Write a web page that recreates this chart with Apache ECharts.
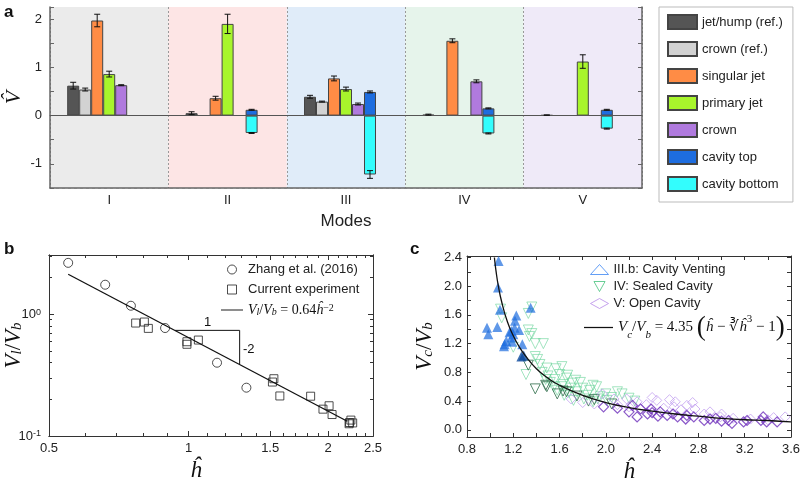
<!DOCTYPE html>
<html>
<head>
<meta charset="utf-8">
<script src="https://cdn.jsdelivr.net/npm/echarts@6/dist/echarts.min.js"></script>
<style>
html, body { margin: 0; background: #fff; }
#chart { width: 800px; height: 484px; }
</style>
</head>
<body>
<div id="chart"></div>
<script>
// ---- panel a: volumes by mode ----
const modes = ["I", "II", "III", "IV", "V"];
const modeColors = ["#ebebeb", "#fde5e5", "#e0ecf9", "#e6f4eb", "#efeaf8"];
const jetHump = [0.62, 0.05, 0.39, 0.02, 0.01];
const jetHumpErr = [0.07, 0.03, 0.03, 0.01, 0.005];
const crownRef = [0.54, null, 0.29, null, null];
const crownRefErr = [0.03, null, 0.01, null, null];
const singularJet = [1.97, 0.36, 0.77, 1.55, null];
const singularJetErr = [0.13, 0.04, 0.05, 0.04, null];
const primaryJet = [0.86, 1.90, 0.55, null, 1.12];
const primaryJetErr = [0.06, 0.20, 0.04, null, 0.14];
const crownVals = [0.63, null, 0.24, 0.71, null];
const crownErr = [0.01, null, 0.02, 0.03, null];
const cavityTop = [null, 0.12, 0.49, 0.15, 0.12];
const cavityTopErr = [null, 0.01, 0.02, 0.01, 0.01];
const cavityBottom = [null, -0.36, -1.22, -0.37, -0.27];
const cavityBottomErr = [null, 0.01, 0.08, 0.01, 0.01];

// ---- panel b ----
const zhangH = [0.55, 0.661, 0.751, 0.89, 1.152, 1.333];
const zhangV = [2.63, 1.74, 1.17, 0.768, 0.399, 0.249];
const currentH = [0.769, 0.803, 0.819, 0.992, 0.992, 1.05, 1.517, 1.528, 1.574, 1.834, 1.95, 2.01, 2.04, 2.225, 2.24, 2.26, 2.22];
const currentV = [0.844, 0.86, 0.763, 0.593, 0.565, 0.612, 0.277, 0.295, 0.213, 0.212, 0.166, 0.177, 0.150, 0.129, 0.135, 0.128, 0.126];
const bFitH = [0.55, 2.2];
const bFitV = [2.12, 0.132];
const slopeH = [0.935, 1.289, 1.289];
const slopeV = [0.735, 0.735, 0.387];
const bMajorX = [0.5, 1, 1.5, 2, 2.5];
const bMinorX = [0.6, 0.7, 0.8, 0.9, 1.1, 1.2, 1.3, 1.4, 1.6, 1.7, 1.8, 1.9, 2.1, 2.2, 2.3, 2.4];
const bMajorY = [0.1, 1];
const bMinorY = [0.2, 0.3, 0.4, 0.5, 0.6, 0.7, 0.8, 0.9, 2, 3];

// ---- panel c ----
const ventLight = [[1.073, 2.35], [1.068, 1.98], [1.085, 1.67], [0.973, 1.42], [0.984, 1.33], [1.062, 1.43],
  [1.226, 1.59], [1.215, 1.52], [1.211, 1.42], [1.168, 1.36], [1.25, 1.39], [1.186, 1.29], [1.14, 1.235],
  [1.125, 1.19], [1.19, 1.225], [1.278, 1.19], [1.35, 1.70], [1.12, 1.165], [1.183, 1.375], [1.20, 1.33]];
const ventDark = [[1.29, 1.035], [1.27, 1.02]];
const sealedLight = [[1.09, 1.68], [1.10, 1.56], [1.33, 1.62], [1.36, 1.71], [1.33, 1.39], [1.34, 1.30], [1.36, 1.34],
  [1.39, 1.20], [1.46, 1.20], [1.20, 1.15], [1.39, 1.02], [1.41, 0.98], [1.31, 0.77], [1.43, 0.91], [1.49, 0.86],
  [1.57, 0.85], [1.60, 0.77], [1.50, 0.75], [1.56, 0.70], [1.66, 0.72], [1.63, 0.63], [1.71, 0.65], [1.74, 0.69],
  [1.78, 0.66], [1.89, 0.62], [1.92, 0.60], [2.10, 0.53], [2.14, 0.50], [1.62, 0.88], [1.67, 0.76], [1.64, 0.48],
  [1.72, 0.41], [1.81, 0.43], [1.89, 0.39], [1.75, 0.53], [1.95, 0.46], [2.01, 0.41], [1.55, 0.60], [1.58, 0.55],
  [1.68, 0.52], [1.70, 0.58], [1.84, 0.48], [1.86, 0.55], [2.00, 0.50], [2.05, 0.45], [2.20, 0.44], [2.25, 0.40],
  [1.52, 0.66], [1.45, 0.80], [1.48, 0.70], [1.62, 0.60], [1.80, 0.58], [1.93, 0.43]];
const sealedDark = [[1.33, 0.90], [1.39, 0.57], [1.48, 0.62], [1.49, 0.60], [1.63, 0.54], [1.66, 0.53],
  [1.75, 0.47], [1.85, 0.40], [1.90, 0.42], [2.05, 0.36], [1.58, 0.50]];
const openLight = [[1.70, 0.43], [1.80, 0.38], [1.97, 0.50], [2.07, 0.43], [2.18, 0.43], [2.27, 0.39], [2.44, 0.41],
  [2.60, 0.39], [2.59, 0.32], [2.70, 0.34], [2.77, 0.29], [2.99, 0.18], [3.55, 0.18], [2.35, 0.35], [2.50, 0.30],
  [2.65, 0.28], [2.85, 0.22], [2.40, 0.45], [2.55, 0.42], [2.10, 0.35], [2.20, 0.32], [1.90, 0.36], [3.00, 0.22],
  [3.10, 0.16], [3.25, 0.15], [3.40, 0.14], [3.45, 0.17], [2.90, 0.25], [2.75, 0.38]];
const openDark = [[1.98, 0.32], [2.30, 0.29], [2.36, 0.22], [2.47, 0.25], [2.53, 0.20], [2.62, 0.18], [2.27, 0.18],
  [2.39, 0.29], [2.23, 0.34], [2.69, 0.15], [2.76, 0.18], [2.85, 0.13], [2.90, 0.15], [3.06, 0.13], [3.09, 0.09],
  [3.22, 0.13], [3.19, 0.11], [3.34, 0.13], [3.39, 0.11], [3.48, 0.11], [3.36, 0.18], [2.10, 0.30], [2.20, 0.25],
  [2.40, 0.24], [2.45, 0.19], [2.58, 0.22], [2.70, 0.20], [2.95, 0.16], [3.00, 0.12]];
const cFitH = [1.037, 1.04, 1.05, 1.07, 1.1, 1.15, 1.2, 1.25, 1.3, 1.4, 1.5, 1.6, 1.8, 2.0, 2.2, 2.4, 2.6, 2.8, 3.0, 3.2, 3.4, 3.6];
const cFitV = [2.40, 2.35, 2.22, 2.01, 1.78, 1.50, 1.31, 1.16, 1.04, 0.85, 0.72, 0.62, 0.48, 0.38, 0.31, 0.26, 0.22, 0.19, 0.16, 0.14, 0.13, 0.11];
const cLabelX = [0.8, 1.2, 1.6, 2.0, 2.4, 2.8, 3.2, 3.6];
const cTickX = [0.8, 1.0, 1.2, 1.4, 1.6, 1.8, 2.0, 2.2, 2.4, 2.6, 2.8, 3.0, 3.2, 3.4, 3.6];
const cLabelY = [0, 0.4, 0.8, 1.2, 1.6, 2.0, 2.4];
const cTickY = [0, 0.2, 0.4, 0.6, 0.8, 1.0, 1.2, 1.4, 1.6, 1.8, 2.0, 2.2, 2.4];

const SANS = "Liberation Sans";
const SERIF = "Liberation Serif";
const BAR_W = 12;
const L = Math.log10;
const FIT_B = "fitB";
const FIT_C = "fitC";
const LINE_ICON = "path://M0,0H30V1.3H0Z";
const SQUARE_ICON = "path://M0,0H10V10H0Z";
const DOWN_TRI_ICON = "path://M0,0L10,0L5,9Z";

const barDefs = [
    {name: "jet/hump (ref.)", values: jetHump, errs: jetHumpErr, color: "#555555", slot: 0},
    {name: "crown (ref.)", values: crownRef, errs: crownRefErr, color: "#d2d2d2", slot: 1},
    {name: "singular jet", values: singularJet, errs: singularJetErr, color: "#ff8c45", slot: 2},
    {name: "primary jet", values: primaryJet, errs: primaryJetErr, color: "#a8f52c", slot: 3},
    {name: "crown", values: crownVals, errs: crownErr, color: "#b07ade", slot: 4},
    {name: "cavity top", values: cavityTop, errs: cavityTopErr, color: "#1e6ddf", slot: 5, stack: "cav"},
    {name: "cavity bottom", values: cavityBottom, errs: cavityBottomErr, color: "#33fdfd", slot: 5, stack: "cav"},
];

const errData = [];
barDefs.forEach(d => d.values.forEach((v, i) => {
    if (v !== null) errData.push([i, v, d.errs[i], d.slot]);
}));

function makeRich(size) {
    return {
        i: {fontFamily: SERIF, fontStyle: "italic", fontSize: size, color: "#111"},
        r: {fontFamily: SERIF, fontSize: size, color: "#111"},
        sb: {fontFamily: SERIF, fontStyle: "italic", fontSize: size - 4, color: "#111", verticalAlign: "bottom", lineHeight: 12},
        sp: {fontFamily: SERIF, fontSize: size - 4, color: "#111", verticalAlign: "top", lineHeight: 12},
        p: {fontFamily: SERIF, fontSize: 27, color: "#111"},
    };
}
const nameRich = {
    i: {fontFamily: SERIF, fontStyle: "italic", fontSize: 23, color: "#111"},
    r: {fontFamily: SERIF, fontSize: 23, color: "#111"},
    sb: {fontFamily: SERIF, fontStyle: "italic", fontSize: 15, color: "#111", verticalAlign: "bottom", lineHeight: 16},
};

function mkAxis(o) {
    return {
        type: "value", gridIndex: o.grid, position: o.pos, min: o.min, max: o.max,
        axisLine: {show: true, onZero: false, lineStyle: {color: "#333", width: 1}},
        axisTick: {show: true, inside: true, length: o.len, customValues: o.ticks, lineStyle: {color: "#333"}},
        axisLabel: {show: !!o.labels, customValues: o.labels, formatter: o.fmt, fontSize: 13, color: "#222",
            fontFamily: SANS, margin: o.margin || 6, rich: o.rich},
        splitLine: {show: false},
        name: o.name, nameLocation: "middle", nameGap: o.nameGap, nameTextStyle: o.nameStyle,
        nameMoveOverlap: false,
    };
}

const fmtX = v => String(+(Math.pow(10, v)).toPrecision(3));
const fmtY = v => (Math.round(v) === 0 ? "10{s|0}" : "10{s|-1}");

const chart = echarts.init(document.getElementById("chart"));

const option = {
    animation: false,
    textStyle: {fontFamily: SANS},
    grid: [
        {left: 50, top: 7, width: 592, height: 181, outerBoundsMode: "none", containLabel: false},
        {left: 49, top: 255, width: 324, height: 181, outerBoundsMode: "none", containLabel: false},
        {left: 467, top: 256, width: 324, height: 181, outerBoundsMode: "none", containLabel: false},
    ],
    xAxis: [
        {
            type: "category", gridIndex: 0, data: modes, position: "bottom",
            axisLine: {onZero: false, lineStyle: {color: "#666", width: 1.5}},
            axisTick: {show: false},
            axisLabel: {fontSize: 13, color: "#222", margin: 6},
            splitLine: {show: true, lineStyle: {type: [2, 2], color: "#999"}},
            splitArea: {show: true, areaStyle: {color: modeColors}},
            name: "Modes", nameLocation: "middle", nameGap: 25, nameMoveOverlap: false,
            nameTextStyle: {fontSize: 17, color: "#222"},
        },
        {
            type: "category", gridIndex: 0, data: modes, position: "top",
            axisLine: {lineStyle: {color: "#666", width: 1}},
            axisTick: {show: false}, axisLabel: {show: false},
        },
        mkAxis({grid: 1, pos: "bottom", min: L(0.5), max: L(2.5), len: 5, ticks: bMajorX.map(L),
            labels: bMajorX.map(L), fmt: fmtX, name: "ĥ", nameGap: 23,
            nameStyle: {fontFamily: SERIF, fontStyle: "italic", fontSize: 23, color: "#111", padding: [0, 30, 0, 0]}}),
        mkAxis({grid: 1, pos: "bottom", min: L(0.5), max: L(2.5), len: 3, ticks: bMinorX.map(L)}),
        mkAxis({grid: 1, pos: "top", min: L(0.5), max: L(2.5), len: 5, ticks: bMajorX.map(L)}),
        mkAxis({grid: 1, pos: "top", min: L(0.5), max: L(2.5), len: 3, ticks: bMinorX.map(L)}),
        mkAxis({grid: 2, pos: "bottom", min: 0.8, max: 3.6, len: 4, ticks: cTickX, labels: cLabelX,
            fmt: v => v.toFixed(1), name: "ĥ", nameGap: 23,
            nameStyle: {fontFamily: SERIF, fontStyle: "italic", fontSize: 23, color: "#111"}}),
        mkAxis({grid: 2, pos: "top", min: 0.8, max: 3.6, len: 4, ticks: cTickX}),
    ],
    yAxis: [
        {
            type: "value", gridIndex: 0, position: "left", min: -1.5, max: 2.25, interval: 0.5,
            axisLine: {show: true, lineStyle: {color: "#666", width: 1.5}},
            axisTick: {show: true, inside: true, length: 4, lineStyle: {color: "#666"}},
            axisLabel: {formatter: v => (Number.isInteger(v) ? String(v) : ""), fontSize: 13, color: "#222", margin: 8},
            splitLine: {lineStyle: {type: [3, 3], color: "#d0d0d0"}},
            name: "V̂", nameLocation: "middle", nameGap: 25, nameMoveOverlap: false,
            nameTextStyle: {fontFamily: SERIF, fontStyle: "italic", fontSize: 22, color: "#111"},
        },
        {
            type: "value", gridIndex: 0, position: "right", min: -1.5, max: 2.25, interval: 0.5,
            axisLine: {show: true, lineStyle: {color: "#666", width: 1.5}},
            axisTick: {show: true, inside: true, length: 4, lineStyle: {color: "#666"}},
            axisLabel: {show: false}, splitLine: {show: false},
        },
        mkAxis({grid: 1, pos: "left", min: -1, max: L(3.05), len: 5, ticks: bMajorY.map(L), labels: bMajorY.map(L),
            fmt: fmtY, margin: 8,
            rich: {s: {fontSize: 9, verticalAlign: "top", lineHeight: 9, color: "#222"}},
            name: "{i|V}{sb|l}{r|/}{i|V}{sb|b}", nameGap: 24, nameStyle: {rich: nameRich}}),
        mkAxis({grid: 1, pos: "left", min: -1, max: L(3.05), len: 3, ticks: bMinorY.map(L)}),
        mkAxis({grid: 1, pos: "right", min: -1, max: L(3.05), len: 5, ticks: bMajorY.map(L)}),
        mkAxis({grid: 1, pos: "right", min: -1, max: L(3.05), len: 3, ticks: bMinorY.map(L)}),
        mkAxis({grid: 2, pos: "left", min: -0.1, max: 2.42, len: 4, ticks: cTickY, labels: cLabelY,
            fmt: v => v.toFixed(1), margin: 5,
            name: "{i|V}{sb|c}{r|/}{i|V}{sb|b}", nameGap: 31, nameStyle: {rich: nameRich}}),
        mkAxis({grid: 2, pos: "right", min: -0.1, max: 2.42, len: 4, ticks: cTickY}),
    ],
    legend: [
        {
            left: 659, top: 7, orient: "vertical", icon: "rect",
            itemWidth: 29, itemHeight: 14, itemGap: 11, padding: [7, 10, 10, 8],
            borderColor: "#bbb", borderWidth: 1, backgroundColor: "#fff",
            textStyle: {fontSize: 13, color: "#222"},
            data: barDefs.map(d => d.name),
        },
        {
            left: 221, top: 263, orient: "vertical", itemWidth: 22, itemHeight: 9, itemGap: 7, padding: 0,
            textStyle: {fontSize: 13, color: "#222", rich: makeRich(14)},
            data: [
                {name: "Zhang et al. (2016)", icon: "circle",
                    itemStyle: {color: "transparent", borderColor: "#222", borderWidth: 1}},
                {name: "Current experiment", icon: SQUARE_ICON,
                    itemStyle: {color: "transparent", borderColor: "#222", borderWidth: 1}},
                {name: FIT_B, icon: LINE_ICON, itemStyle: {color: "#111", borderWidth: 0}},
            ],
            formatter: n => (n === FIT_B ? "{i|V}{sb|l}{r|/}{i|V}{sb|b}{r| = 0.64}{i|ĥ}{sp|−2}" : n),
        },
        {
            left: 590, top: 263, orient: "vertical", itemWidth: 18, itemHeight: 10, itemGap: 4, padding: 0,
            textStyle: {fontSize: 13, color: "#222"},
            data: [
                {name: "III.b: Cavity Venting", icon: "triangle",
                    itemStyle: {color: "transparent", borderColor: "#3c86f2", borderWidth: 1}},
                {name: "IV: Sealed Cavity", icon: DOWN_TRI_ICON,
                    itemStyle: {color: "transparent", borderColor: "#45c27c", borderWidth: 1}},
                {name: "V: Open Cavity", icon: "diamond",
                    itemStyle: {color: "transparent", borderColor: "#b68ce9", borderWidth: 1}},
            ],
        },
        {
            left: 584, top: 314, itemWidth: 29, itemHeight: 10, padding: 0,
            textStyle: {rich: makeRich(15)},
            data: [{name: FIT_C, icon: LINE_ICON, itemStyle: {color: "#111", borderWidth: 0}}],
            formatter: () => "{i|V}{sb|c}{r|/}{i|V}{sb|b}{r| = 4.35 }{p|(}{i|ĥ}{r| − ∛}{i|ĥ}{sp|3}{r| − 1}{p|)}",
        },
    ],
    series: [
        ...barDefs.map((d, k) => ({
            type: "bar", name: d.name, xAxisIndex: 0, yAxisIndex: 0, data: d.values,
            barWidth: BAR_W, barGap: "0%", stack: d.stack,
            itemStyle: {color: d.color, borderColor: "#444", borderWidth: 1},
            z: 3,
            markLine: k === 0 ? {
                silent: true, symbol: "none", label: {show: false},
                lineStyle: {color: "#555", type: "solid", width: 1}, data: [{yAxis: 0}],
            } : undefined,
        })),
        {type: "bar", name: "_pad", xAxisIndex: 0, yAxisIndex: 0, data: modes.map(() => null), barWidth: BAR_W, barGap: "0%"},
        {
            type: "custom", name: "err", xAxisIndex: 0, yAxisIndex: 0, data: errData, z: 5,
            renderItem: (params, api) => {
                const c = api.value(0), v = api.value(1), e = api.value(2), slot = api.value(3);
                const top = api.coord([c, v + e]);
                const bot = api.coord([c, v - e]);
                const x = top[0] + (slot - 3) * BAR_W;
                const st = {stroke: "#111", lineWidth: 1};
                return {type: "group", children: [
                    {type: "line", shape: {x1: x, y1: top[1], x2: x, y2: bot[1]}, style: st},
                    {type: "line", shape: {x1: x - 3, y1: top[1], x2: x + 3, y2: top[1]}, style: st},
                    {type: "line", shape: {x1: x - 3, y1: bot[1], x2: x + 3, y2: bot[1]}, style: st},
                ]};
            },
        },
        // panel b
        {
            type: "scatter", name: "Zhang et al. (2016)", xAxisIndex: 2, yAxisIndex: 2,
            data: zhangH.map((h, i) => [L(h), L(zhangV[i])]),
            symbol: "circle", symbolSize: 9,
            itemStyle: {color: "transparent", borderColor: "#222", borderWidth: 1},
        },
        {
            type: "scatter", name: "Current experiment", xAxisIndex: 2, yAxisIndex: 2,
            data: currentH.map((h, i) => [L(h), L(currentV[i])]),
            symbol: "rect", symbolSize: 8,
            itemStyle: {color: "transparent", borderColor: "#222", borderWidth: 1},
        },
        {
            type: "line", name: FIT_B, xAxisIndex: 2, yAxisIndex: 2,
            data: bFitH.map((h, i) => [L(h), L(bFitV[i])]),
            symbol: "none", lineStyle: {color: "#111", width: 1.3}, itemStyle: {color: "#111"},
        },
        {
            type: "line", name: "slope", xAxisIndex: 2, yAxisIndex: 2,
            data: slopeH.map((h, i) => [L(h), L(slopeV[i])]),
            symbol: "none", lineStyle: {color: "#111", width: 1},
        },
        // panel c
        {
            type: "scatter", name: "IV: Sealed Cavity", xAxisIndex: 6, yAxisIndex: 6, data: sealedLight,
            symbol: "triangle", symbolRotate: 180, symbolSize: 10, z: 2,
            itemStyle: {color: "transparent", borderColor: "rgba(100,210,150,0.75)", borderWidth: 1},
        },
        {
            type: "scatter", name: "IV: Sealed Cavity", xAxisIndex: 6, yAxisIndex: 6, data: sealedDark,
            symbol: "triangle", symbolRotate: 180, symbolSize: 10, z: 2,
            itemStyle: {color: "transparent", borderColor: "#2d6b48", borderWidth: 1},
        },
        {
            type: "scatter", name: "V: Open Cavity", xAxisIndex: 6, yAxisIndex: 6, data: openLight,
            symbol: "diamond", symbolSize: 10, z: 3,
            itemStyle: {color: "transparent", borderColor: "rgba(185,145,238,0.85)", borderWidth: 1},
        },
        {
            type: "scatter", name: "V: Open Cavity", xAxisIndex: 6, yAxisIndex: 6, data: openDark,
            symbol: "diamond", symbolSize: 10, z: 3,
            itemStyle: {color: "transparent", borderColor: "#6e2fbb", borderWidth: 1.2},
        },
        {
            type: "scatter", name: "III.b: Cavity Venting", xAxisIndex: 6, yAxisIndex: 6, data: ventLight,
            symbol: "triangle", symbolSize: 10, z: 4,
            itemStyle: {color: "rgba(28,108,222,0.88)"},
        },
        {
            type: "scatter", name: "III.b: Cavity Venting", xAxisIndex: 6, yAxisIndex: 6, data: ventDark,
            symbol: "triangle", symbolSize: 10, z: 4,
            itemStyle: {color: "#0c4a9e"},
        },
        {
            type: "line", name: FIT_C, xAxisIndex: 6, yAxisIndex: 6,
            data: cFitH.map((h, i) => [h, cFitV[i]]), smooth: true,
            symbol: "none", lineStyle: {color: "#111", width: 1.3}, itemStyle: {color: "#111"}, z: 6,
        },
    ],
    graphic: [
        {type: "text", left: 4, top: 4, style: {text: "a", font: "bold 17px Liberation Sans", fill: "#111"}},
        {type: "text", left: 4, top: 241, style: {text: "b", font: "bold 17px Liberation Sans", fill: "#111"}},
        {type: "text", left: 410, top: 241, style: {text: "c", font: "bold 17px Liberation Sans", fill: "#111"}},
        {type: "text", left: 204, top: 316, style: {text: "1", font: "13px Liberation Sans", fill: "#111"}},
        {type: "text", left: 243, top: 343, style: {text: "-2", font: "13px Liberation Sans", fill: "#111"}},
    ],
};

chart.setOption(option);
</script>
</body>
</html>
